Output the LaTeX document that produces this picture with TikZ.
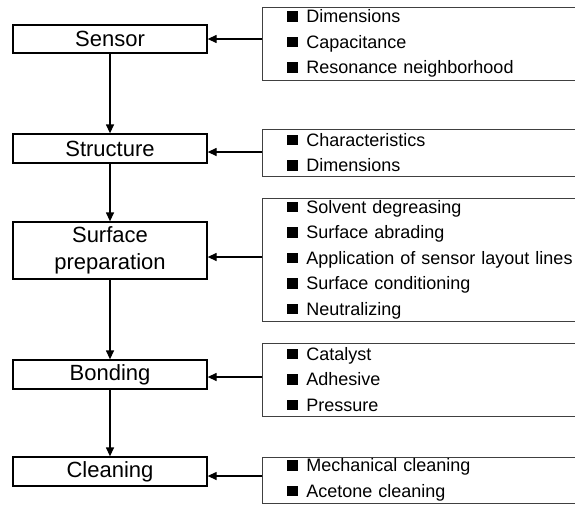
\documentclass[tikz,border=0pt]{standalone}
\usepackage{fontspec}
\setmainfont{Liberation Sans}
\usetikzlibrary{positioning, arrows.meta}

\newcommand{\sq}{\rule[1pt]{10.5pt}{10.5pt}\hspace{8.5pt}}

\begin{document}
\begin{tikzpicture}[
          x=1pt, y=-1pt,
          stage/.style={rectangle, draw, line width=1.3pt, minimum width=194pt, inner sep=0pt, align=center, font=\fontsize{22}{27}\selectfont},
          notes/.style={rectangle, draw=black!75, line width=0.8pt, anchor=west, text width=300pt, inner xsep=25pt, inner ysep=0pt, align=left, font=\fontsize{18}{25.5}\selectfont},
          link/.style={-{Triangle[length=9pt, width=8pt]}, line width=1.3pt}
      ]
      
      \clip (0,0) rectangle (575,504);
      
      \node[stage, minimum height=28pt] (sensor) at (110,39) {Sensor};
      \node[stage, minimum height=29pt] (structure) at (110,148.5) {Structure};
      \node[stage, minimum height=57pt] (prep) at (110,250.5) {Surface\\preparation};
      \node[stage, minimum height=29pt] (bonding) at (110,374.5) {Bonding};
      \node[stage, minimum height=29pt] (cleaning) at (110,471.5) {Cleaning};
      
      \node[notes, minimum height=73pt] (info1) at (262,43.5)
          {\sq Dimensions\\\sq Capacitance\\\sq Resonance neighborhood};
      \node[notes, minimum height=47pt] (info2) at (262,152.5)
          {\sq Characteristics\\\sq Dimensions};
      \node[notes, minimum height=123pt] (info3) at (262,259.5)
          {\sq Solvent degreasing\\\sq Surface abrading\\\sq Application of sensor layout lines\\\sq Surface conditioning\\\sq Neutralizing};
      \node[notes, minimum height=73pt] (info4) at (262,379.5)
          {\sq Catalyst\\\sq Adhesive\\\sq Pressure};
      \node[notes, minimum height=46pt] (info5) at (262,480)
          {\sq Mechanical cleaning\\\sq Acetone cleaning};
      
      \foreach \a/\b in {sensor/structure, structure/prep, prep/bonding, bonding/cleaning} {
          \draw[link] (\a) -- (\b);
      }
      
      \foreach \s/\i/\dy in {sensor/info1/4.5, structure/info2/0.5, prep/info3/2.5, bonding/info4/2.5, cleaning/info5/4} {
          \draw[link] ([yshift=\dy pt]\i.west) -- ([yshift=\dy pt]\i.west -| \s.east);
      }
      
      \end{tikzpicture}
\end{document}
